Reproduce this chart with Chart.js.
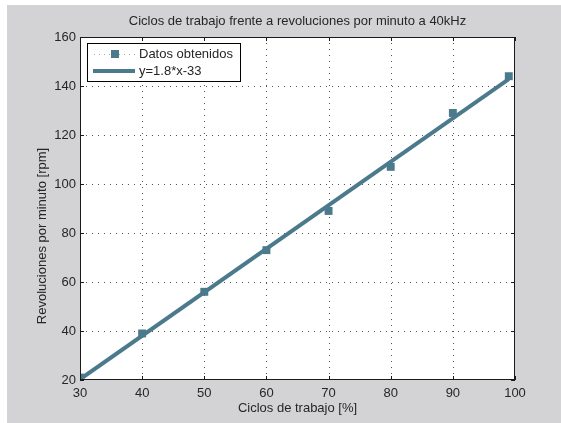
<!DOCTYPE html>
<html>
<head>
<meta charset="utf-8">
<script src="https://cdn.jsdelivr.net/npm/chart.js@4"></script>
<style>
  html, body { margin: 0; padding: 0; background: #ffffff; }
  canvas { display: block; }
</style>
</head>
<body>
<canvas id="c" width="561" height="423"></canvas>
<script>
// Measured duty cycle [%] vs. motor speed [rpm]
const dutyCycle = [30, 40, 50, 60, 70, 80, 90, 99];
const speedRpm  = [21, 39, 56, 73, 89, 107, 129, 144];

// Least-squares line over the measured range; the legend shows it rounded
const fitSlope = 1.776;
const fitIntercept = -33;
const fitX = [30, 99];
const fitY = fitX.map(x => fitSlope * x + fitIntercept);

const xTicks = [30, 40, 50, 60, 70, 80, 90, 100];
const yTicks = [20, 40, 60, 80, 100, 120, 140, 160];

const titleText  = 'Ciclos de trabajo frente a revoluciones por minuto a 40kHz';
const xTitleText = 'Ciclos de trabajo [%]';
const yTitleText = 'Revoluciones por minuto [rpm]';
const legendLabels = ['Datos obtenidos', `y=${fitSlope.toFixed(1)}*x${fitIntercept}`];

const W = 561, H = 423;
const FIG_BG = '#d3d3d5';
const SERIES = '#4a7a8c';
const TEXT = '#262626';
const FONT = '13px "Liberation Sans", Arial, sans-serif';

const figure = {
  id: 'figure',
  beforeDraw(chart) {
    const { ctx, chartArea: a } = chart;
    ctx.save();
    ctx.fillStyle = '#ffffff';
    ctx.fillRect(0, 0, W, H);
    ctx.fillStyle = FIG_BG;
    ctx.fillRect(7, 5, W - 7, H - 5);
    ctx.fillStyle = '#ffffff';
    ctx.fillRect(a.left, a.top, a.width, a.height);
    ctx.restore();
  },
  beforeDatasetsDraw(chart) {
    // dotted grid
    const { ctx, chartArea: a, scales: { x, y } } = chart;
    ctx.save();
    ctx.strokeStyle = '#555555';
    ctx.lineWidth = 1;
    ctx.setLineDash([1, 5]);
    xTicks.slice(1, -1).forEach(v => {
      const px = Math.round(x.getPixelForValue(v)) + 0.5;
      ctx.beginPath(); ctx.moveTo(px, a.bottom); ctx.lineTo(px, a.top); ctx.stroke();
    });
    yTicks.slice(1, -1).forEach(v => {
      const py = Math.round(y.getPixelForValue(v)) + 0.5;
      ctx.beginPath(); ctx.moveTo(a.left, py); ctx.lineTo(a.right, py); ctx.stroke();
    });
    ctx.restore();
  },
  afterDraw(chart) {
    const { ctx, chartArea: a, scales: { x, y } } = chart;
    ctx.save();
    // axes box
    ctx.strokeStyle = '#1a1a1a';
    ctx.lineWidth = 1;
    ctx.strokeRect(Math.round(a.left) + 0.5, Math.round(a.top) + 0.5,
                   Math.round(a.width) - 1, Math.round(a.height) - 1);
    // inward tick marks on all four sides
    const tl = 4;
    ctx.beginPath();
    xTicks.forEach(v => {
      const px = Math.round(x.getPixelForValue(v)) + 0.5;
      ctx.moveTo(px, a.bottom); ctx.lineTo(px, a.bottom - tl);
      ctx.moveTo(px, a.top); ctx.lineTo(px, a.top + tl);
    });
    yTicks.forEach(v => {
      const py = Math.round(y.getPixelForValue(v)) + 0.5;
      ctx.moveTo(a.left, py); ctx.lineTo(a.left + tl, py);
      ctx.moveTo(a.right, py); ctx.lineTo(a.right - tl, py);
    });
    ctx.stroke();

    // titles
    ctx.fillStyle = TEXT;
    ctx.font = FONT;
    ctx.textAlign = 'center';
    ctx.textBaseline = 'middle';
    ctx.fillText(titleText, (a.left + a.right) / 2, 21);
    ctx.fillText(xTitleText, (a.left + a.right) / 2, 408);
    ctx.save();
    ctx.translate(42, 236);
    ctx.rotate(-Math.PI / 2);
    ctx.fillText(yTitleText, 0, 0);
    ctx.restore();

    // legend
    const lx = 87, ly = 43, lw = 153, lh = 38;
    ctx.fillStyle = '#ffffff';
    ctx.fillRect(lx, ly, lw, lh);
    ctx.strokeStyle = '#000000';
    ctx.lineWidth = 1;
    ctx.strokeRect(lx + 0.5, ly + 0.5, lw, lh);
    const r1 = 54, r2 = 71;
    // row 1: dotted line with square marker
    ctx.strokeStyle = '#a8a8a8';
    ctx.setLineDash([1, 4]);
    ctx.beginPath(); ctx.moveTo(94, r1 + 0.5); ctx.lineTo(135, r1 + 0.5); ctx.stroke();
    ctx.setLineDash([]);
    ctx.fillStyle = SERIES;
    ctx.fillRect(111, r1 - 4, 8, 8);
    // row 2: solid thick line
    ctx.strokeStyle = SERIES;
    ctx.lineWidth = 4;
    ctx.beginPath(); ctx.moveTo(93, r2); ctx.lineTo(135, r2); ctx.stroke();
    ctx.fillStyle = TEXT;
    ctx.textAlign = 'left';
    ctx.fillText(legendLabels[0], 139, r1);
    ctx.fillText(legendLabels[1], 139, r2);
    ctx.restore();
  }
};

new Chart(document.getElementById('c'), {
  type: 'scatter',
  data: {
    datasets: [
      {
        label: legendLabels[1],
        data: fitX.map((v, i) => ({ x: v, y: fitY[i] })),
        showLine: true,
        borderColor: SERIES,
        borderWidth: 4,
        pointRadius: 0,
        fill: false
      },
      {
        label: legendLabels[0],
        data: dutyCycle.map((v, i) => ({ x: v, y: speedRpm[i] })),
        showLine: false,
        pointStyle: 'rect',
        pointRadius: 5.6,
        backgroundColor: SERIES,
        borderColor: SERIES,
        borderWidth: 0
      }
    ]
  },
  options: {
    responsive: false,
    animation: false,
    devicePixelRatio: 1,
    layout: { padding: { left: 0, top: 37, right: 46, bottom: 0 } },
    plugins: { legend: { display: false }, tooltip: { enabled: false }, title: { display: false } },
    scales: {
      x: {
        type: 'linear',
        min: 30, max: 100,
        afterBuildTicks: s => { s.ticks = xTicks.map(v => ({ value: v })); },
        afterFit: s => { s.height = 43; },
        grid: { display: false, drawTicks: false },
        border: { display: false },
        ticks: { color: TEXT, padding: 6, maxRotation: 0, autoSkip: false,
                 font: { family: '"Liberation Sans", Arial, sans-serif', size: 13 } }
      },
      y: {
        type: 'linear',
        min: 20, max: 160,
        afterBuildTicks: s => { s.ticks = yTicks.map(v => ({ value: v })); },
        afterFit: s => { s.width = 80; },
        grid: { display: false, drawTicks: false },
        border: { display: false },
        ticks: { color: TEXT, padding: 4, autoSkip: false,
                 font: { family: '"Liberation Sans", Arial, sans-serif', size: 13 } }
      }
    }
  },
  plugins: [figure]
});
</script>
</body>
</html>
